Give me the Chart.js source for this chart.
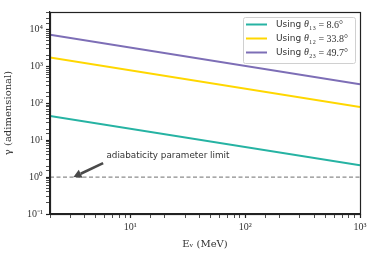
<!DOCTYPE html>
<html>
<head>
<meta charset="utf-8">
<script src="https://cdn.jsdelivr.net/npm/chart.js@4"></script>
<style>
  html, body { margin: 0; padding: 0; background: #fff; }
  #wrap { width: 374px; height: 253px; }
</style>
</head>
<body>
<div id="wrap"><canvas id="myChart" width="374" height="253"></canvas></div>
<script>
// energies (MeV) at the two ends of each line
const energias = [2, 1000];
const gamma13 = [45.5, 2.1];
const gamma12 = [1750, 80];
const gamma23 = [7200, 330];
const limite = [1, 1];

const etiquetas = ['Using |θ|₁₃ = 8.6°', 'Using |θ|₁₂ = 33.8°', 'Using |θ|₂₃ = 49.7°'];
const colores = ['#26b3a3', '#ffd700', '#7d6eb6'];

// annotation anchor points (data coords)
const flechaDesde = { x: 5.8, y: 2.4 };
const flechaHasta = { x: 3.2, y: 1.0 };
const textoNota = { x: 6.2, y: 3.7, texto: 'adiabaticity parameter limit' };

const sup = { '0': '⁰', '1': '¹', '2': '²', '3': '³', '4': '⁴', '-': '⁻' };
function potencia(v) {
  const e = Math.round(Math.log10(v));
  if (Math.abs(Math.log10(v) - e) > 1e-6) return '';
  return '10' + String(e).split('').map(c => sup[c]).join('');
}

function serie(ys) {
  return energias.map((x, i) => ({ x: x, y: ys[i] }));
}

const marco = {
  id: 'marco',
  afterDraw(chart) {
    const ctx = chart.ctx;
    const a = chart.chartArea;
    const xs = chart.scales.x, ys = chart.scales.y;
    ctx.save();
    ctx.strokeStyle = '#222';
    ctx.lineWidth = 1.2;
    ctx.strokeRect(Math.round(a.left) + 0.5, Math.round(a.top) + 0.5,
      Math.round(a.right - a.left), Math.round(a.bottom - a.top));

    // arrow + note
    const x0 = xs.getPixelForValue(flechaDesde.x), y0 = ys.getPixelForValue(flechaDesde.y);
    const x1 = xs.getPixelForValue(flechaHasta.x), y1 = ys.getPixelForValue(flechaHasta.y);
    const ang = Math.atan2(y1 - y0, x1 - x0);
    const hl = 8, hw = 4.5;
    const bx = x1 - hl * Math.cos(ang), by = y1 - hl * Math.sin(ang);
    ctx.strokeStyle = '#4a4a4a';
    ctx.fillStyle = '#4a4a4a';
    ctx.lineWidth = 2.6;
    ctx.beginPath();
    ctx.moveTo(x0, y0);
    ctx.lineTo(bx, by);
    ctx.stroke();
    ctx.beginPath();
    ctx.moveTo(x1, y1);
    ctx.lineTo(bx + hw * Math.sin(ang), by - hw * Math.cos(ang));
    ctx.lineTo(bx - hw * Math.sin(ang), by + hw * Math.cos(ang));
    ctx.closePath();
    ctx.fill();

    ctx.fillStyle = '#333';
    ctx.font = '8.8px "DejaVu Sans"';
    ctx.textBaseline = 'middle';
    ctx.textAlign = 'left';
    ctx.fillText(textoNota.texto, xs.getPixelForValue(textoNota.x), ys.getPixelForValue(textoNota.y));

    // legend
    const lx = 243.5, ly = 17.5, lw = 112, lh = 46;
    ctx.fillStyle = 'rgba(255,255,255,0.85)';
    ctx.strokeStyle = '#d0d0d0';
    ctx.lineWidth = 1;
    ctx.beginPath();
    ctx.roundRect(lx, ly, lw, lh, 2);
    ctx.fill();
    ctx.stroke();
    etiquetas.forEach((et, i) => {
      const yy = 24.5 + i * 14;
      ctx.strokeStyle = colores[i];
      ctx.lineWidth = 2;
      ctx.beginPath();
      ctx.moveTo(246, yy);
      ctx.lineTo(267, yy);
      ctx.stroke();
      const partes = et.split('|');
      let xx = 276;
      ctx.fillStyle = '#333';
      ctx.font = '9px "DejaVu Sans"';
      ctx.fillText(partes[0], xx, yy);
      xx += ctx.measureText(partes[0]).width;
      ctx.font = 'italic 10px "Liberation Serif"';
      ctx.fillText(partes[1], xx, yy);
      xx += ctx.measureText(partes[1]).width;
      ctx.font = '10px "Liberation Serif"';
      ctx.fillText(partes[2], xx, yy + 0.5);
    });
    ctx.restore();
  }
};

const rejilla = {
  display: true,
  drawOnChartArea: false,
  drawTicks: true,
  tickLength: 4,
  tickColor: '#222',
  tickWidth: c => (c.tick && potencia(c.tick.value) !== '' ? 1.2 : 0.8)
};

new Chart(document.getElementById('myChart'), {
  type: 'line',
  data: {
    datasets: [
      { label: etiquetas[0], data: serie(gamma13), borderColor: colores[0], borderWidth: 2 },
      { label: etiquetas[1], data: serie(gamma12), borderColor: colores[1], borderWidth: 2 },
      { label: etiquetas[2], data: serie(gamma23), borderColor: colores[2], borderWidth: 2 },
      { label: 'limit', data: serie(limite), borderColor: '#8c8c8c', borderWidth: 1.1, borderDash: [4, 2.5] }
    ]
  },
  options: {
    responsive: false,
    animation: false,
    parsing: false,
    elements: { point: { radius: 0 }, line: { tension: 0 } },
    layout: { padding: { left: 0, right: 14, top: 12, bottom: 0 } },
    plugins: { legend: { display: false }, tooltip: { enabled: false } },
    scales: {
      x: {
        type: 'logarithmic',
        min: 2,
        max: 1000,
        grid: rejilla,
        border: { display: true, color: '#222', width: 1.2 },
        afterFit(s) { s.height = 39; },
        ticks: {
          autoSkip: false,
          maxRotation: 0,
          padding: 3,
          color: '#333',
          font: { family: 'Liberation Serif', size: 10 },
          callback: v => potencia(v)
        },
        title: {
          display: true,
          text: 'Eᵥ (MeV)',
          color: '#333',
          font: { family: 'DejaVu Serif', size: 10 },
          padding: { top: 0, bottom: 3 }
        }
      },
      y: {
        type: 'logarithmic',
        min: 0.1,
        max: 30000,
        grid: rejilla,
        border: { display: true, color: '#222', width: 1.2 },
        afterFit(s) { s.width = 50; },
        ticks: {
          autoSkip: false,
          padding: 3,
          color: '#333',
          font: { family: 'Liberation Serif', size: 10 },
          callback: v => potencia(v)
        },
        title: {
          display: true,
          text: 'γ (adimensional)',
          color: '#333',
          font: { family: 'DejaVu Serif', size: 10 },
          padding: { top: 2, bottom: 0 }
        }
      }
    }
  },
  plugins: [marco]
});
</script>
</body>
</html>
